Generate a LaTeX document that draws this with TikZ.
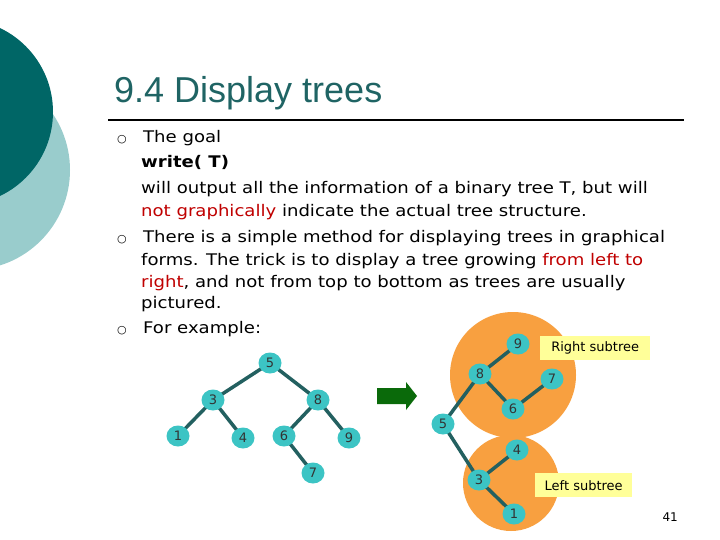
\documentclass[tikz,border=0pt]{standalone}
\usepackage{fontspec}
\setmainfont{DejaVu Sans}[FakeStretch=1.13]
\newfontfamily\titlefont{Liberation Sans}
\newfontfamily\labfont{DejaVu Sans}
\usetikzlibrary{shapes.geometric}
\definecolor{teal1}{HTML}{006666}
\definecolor{teal2}{HTML}{99CCCC}
\definecolor{titlec}{HTML}{1F6464}
\definecolor{nodec}{HTML}{3CC4C4}
\definecolor{edgec}{HTML}{236060}
\definecolor{orangec}{HTML}{F8A040}
\definecolor{yell}{HTML}{FFFF99}
\definecolor{redt}{HTML}{C00000}
\definecolor{arrowc}{HTML}{0A6A0A}
\begin{document}
\begin{tikzpicture}[x=1pt,y=-1pt,
  txt/.style={anchor=base west,inner sep=0,font=\fontsize{16}{18}\selectfont},
  bul/.style={anchor=base west,inner sep=0,font=\labfont\fontsize{11}{12}\selectfont},
  tn/.style={ellipse,fill=nodec,minimum width=23,minimum height=21,inner sep=0,font=\labfont\fontsize{13}{14}\selectfont\color{black!80}},
  ed/.style={draw=edgec,line width=3.5},
  lab/.style={fill=yell,inner sep=0,font=\labfont\fontsize{13}{14}\selectfont,anchor=north west}]
\useasboundingbox (0,0) rectangle (720,540);
\fill[white] (0,0) rectangle (720,540);
\fill[teal2] (-30,170) circle (100);
\fill[teal1] (-40,112) circle (93);
\node[anchor=base west,inner sep=0,text=titlec,font=\titlefont\fontsize{36}{40}\selectfont] (title) at (114,103) {9.4 Display trees};
\draw[line width=1.5] (108,120) -- (684,120);
\node[bul] (b1) at (117,143) {○};
\node[bul] (b2) at (117,242) {○};
\node[bul] (b3) at (117,333) {○};
\node[txt] (l1) at (143,143) {The goal};
\node[txt] (l2) at (141,168) {\bfseries write( T)};
\node[txt] (l3) at (141,194) {will output all the information of a binary tree T, but will};
\node[txt] (l4) at (141,217) {\textcolor{redt}{not graphically} indicate the actual tree structure.};
\node[txt] (l5) at (143,242) {There is a simple method for displaying trees in graphical};
\node[txt] (l6) at (141,265) {forms. The trick is to display a tree growing \textcolor{redt}{from left to}};
\node[txt] (l7) at (141,287) {\textcolor{redt}{right}, and not from top to bottom as trees are usually};
\node[txt] (l8) at (141,308) {pictured.};
\node[txt] (l9) at (143,333) {For example:};
% arrow
\fill[arrowc] (377,388) -- (406,388) -- (406,382) -- (417,396) -- (406,410) -- (406,404) -- (377,404) -- cycle;
% right
\fill[orangec] (513,375) circle (63);
\fill[orangec] (511,483) circle (48);
\coordinate (c5) at (443,424);
\coordinate (c8) at (480,374);
\coordinate (c9) at (518,344);
\coordinate (c7) at (552,379);
\coordinate (c6) at (513,409);
\coordinate (c4) at (517,450);
\coordinate (c3) at (479,480);
\coordinate (c1) at (514,514);
\coordinate (d5) at (270,363);
\coordinate (d3) at (213,400);
\coordinate (d8) at (318,400);
\coordinate (d1) at (178,436);
\coordinate (d4) at (243,438);
\coordinate (d6) at (284,436);
\coordinate (d9) at (349,438);
\coordinate (d7) at (313,473);
\draw[ed] (c5)--(c8) (c8)--(c9) (c8)--(c6) (c6)--(c7) (c5)--(c3) (c3)--(c4) (c3)--(c1);
\draw[ed] (d5)--(d3) (d5)--(d8) (d3)--(d1) (d3)--(d4) (d8)--(d6) (d8)--(d9) (d6)--(d7);
\node[tn] (b5) at (c5) {5};
\node[tn] (b8) at (c8) {8};
\node[tn] (b9) at (c9) {9};
\node[tn] (b7) at (c7) {7};
\node[tn] (b6) at (c6) {6};
\node[tn] (b4) at (c4) {4};
\node[tn] (b3n) at (c3) {3};
\node[tn] (b1n) at (c1) {1};
\node[tn] (a5) at (d5) {5};
\node[tn] (a3) at (d3) {3};
\node[tn] (a8) at (d8) {8};
\node[tn] (a1) at (d1) {1};
\node[tn] (a4) at (d4) {4};
\node[tn] (a6) at (d6) {6};
\node[tn] (a9) at (d9) {9};
\node[tn] (a7) at (d7) {7};
\node[lab,minimum width=110,minimum height=24] (rs) at (540,336) {Right subtree};
\node[lab,minimum width=97,minimum height=24] (ls) at (535,473) {Left subtree};
\node[anchor=base east,inner sep=0,font=\labfont\fontsize{12}{14}\selectfont] (pn) at (678,521) {41};
\end{tikzpicture}
\end{document}
